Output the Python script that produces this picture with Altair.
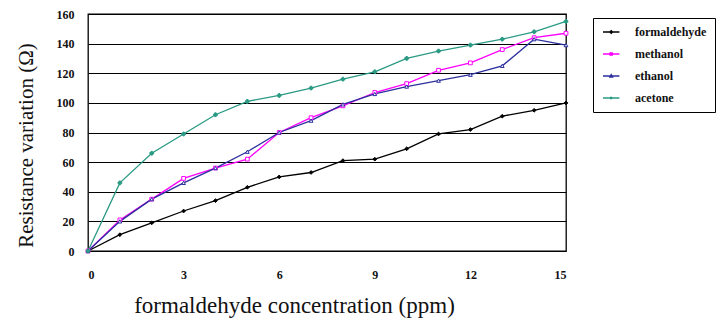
import altair as alt
import pandas as pd

# Concentration steps (ppm) and the response of each gas (ohm)
conc = list(range(16))
formaldehyde = [0, 11, 19, 27, 34, 43, 50, 53, 61, 62, 69, 79, 82, 91, 95, 100]
methanol = [0, 21, 35, 49, 56, 62, 80, 90, 98, 107, 113, 122, 127, 136, 144, 147]
ethanol = [0, 20, 35, 46, 56, 67, 80, 88, 99, 106, 111, 115, 119, 125, 143, 139]
acetone = [0, 46, 66, 79, 92, 101, 105, 110, 116, 121, 130, 135, 139, 143, 148, 155]

series_names = ["formaldehyde", "methanol", "ethanol", "acetone"]
series_colors = ["#000000", "#ff00ff", "#2b2f9e", "#2a9a84"]
series_shapes = ["diamond", "square", "triangle-up", "cross"]
series_fills = ["#000000", "#ffffff", "#ffffff", "#2a9a84"]

x_ticks = [0, 3, 6, 9, 12, 15]
y_ticks = [0, 20, 40, 60, 80, 100, 120, 140, 160]

rows = []
for name, vals in zip(series_names, [formaldehyde, methanol, ethanol, acetone]):
    for c, v in zip(conc, vals):
        rows.append({"conc": c, "value": v, "series": name})
df = pd.DataFrame(rows)

serif = "Liberation Serif"

# legend glyphs: a short stroke with the series marker in its middle
seg = "M-1,0H3.1"
legend_glyphs = [
    seg + "M0.72,0L1.05,-0.33L1.38,0L1.05,0.33Z",
    seg + "M0.78,-0.27H1.32V0.27H0.78Z",
    seg + "M1.05,-0.33L1.38,0.27H0.72Z",
    seg + "M0.8,-0.25L1.3,0.25M0.8,0.25L1.3,-0.25",
]

x_enc = alt.X(
    "conc:Q",
    scale=alt.Scale(domain=[0, 15], nice=False),
    axis=alt.Axis(
        values=x_ticks,
        title="formaldehyde concentration (ppm)",
        titleFont=serif,
        titleFontSize=23,
        titleFontWeight="normal",
        titleColor="#111111",
        titlePadding=14,
        titleX=206,
        titleAnchor="middle",
        labelFont=serif,
        labelFontSize=12,
        labelFontWeight="bold",
        labelColor="#111111",
        labelPadding=18,
        domain=False,
        ticks=False,
        grid=False,
    ),
)
y_enc = alt.Y(
    "value:Q",
    scale=alt.Scale(domain=[0, 160], nice=False),
    axis=alt.Axis(
        values=y_ticks,
        title="Resistance variation (\u03a9)",
        titleFont=serif,
        titleFontSize=21,
        titleFontWeight="normal",
        titleColor="#111111",
        titlePadding=20,
        titleY=131,
        labelFont=serif,
        labelFontSize=12,
        labelFontWeight="bold",
        labelColor="#111111",
        labelPadding=14,
        labelOverlap=False,
        domain=False,
        ticks=False,
        grid=True,
        gridColor="#000000",
        gridWidth=1,
        gridOpacity=1,
    ),
)

legend_def = alt.Legend(
    orient="none",
    legendX=505,
    legendY=4,
    title=None,
    symbolSize=64,
    symbolStrokeWidth=1.4,
    labelFont=serif,
    labelFontSize=12,
    labelFontWeight="bold",
    labelColor="#111111",
    labelOffset=22,
    rowPadding=10,
    padding=8,
    strokeColor="#000000",
    fillColor="#ffffff",
)

color_enc = alt.Color(
    "series:N",
    scale=alt.Scale(domain=series_names, range=series_colors),
    legend=legend_def,
    sort=series_names,
)

base = alt.Chart(df).encode(x=x_enc, y=y_enc)

lines = base.mark_line(strokeWidth=1.3).encode(color=color_enc, detail="series:N")

# one marker layer per gas, each with its own marker shape
marker_layers = [
    base.transform_filter(alt.datum.series == name).mark_point(
        shape=shape, size=14, strokeWidth=1, opacity=1, stroke=col, fill=fill
    )
    for name, shape, col, fill in zip(series_names, series_shapes, series_colors, series_fills)
]

# key layer: no rows of its own, only supplies the legend glyphs
key = (
    base.transform_filter("false")
    .mark_point(size=64, strokeWidth=1.4, opacity=1)
    .encode(
        color=color_enc,
        shape=alt.Shape(
            "series:N",
            scale=alt.Scale(domain=series_names, range=legend_glyphs),
            legend=legend_def,
            sort=series_names,
        ),
    )
)

chart = (
    alt.layer(lines, *marker_layers, key)
    .properties(
        width=478,
        height=237,
        autosize=alt.AutoSizeParams(type="none"),
        padding={"left": 88, "top": 14, "right": 162, "bottom": 74},
        background="#ffffff",
    )
    .configure_view(stroke="#000000", strokeWidth=1.3)
)

chart.save("out.html", embed_options={"renderer": "svg", "actions": False})
